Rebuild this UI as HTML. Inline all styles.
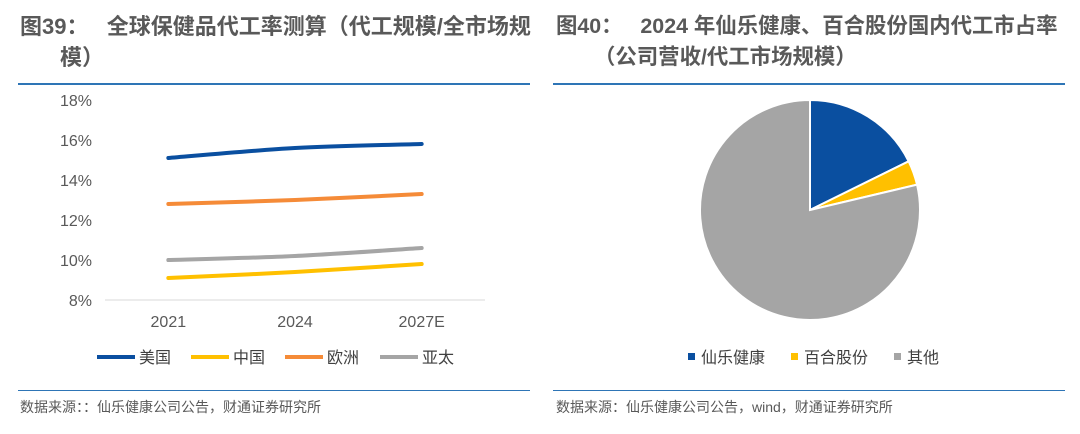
<!DOCTYPE html>
<html><head><meta charset="utf-8"><style>
body{margin:0;width:1080px;height:434px;background:#fff;overflow:hidden;font-family:"Liberation Sans","Noto Sans CJK SC",sans-serif;}
.t{position:absolute;color:#595959;font-weight:600;font-size:22px;line-height:31px;white-space:nowrap;}
.src{position:absolute;top:397px;color:#595959;font-size:14px;}
.hl{position:absolute;height:2px;background:#2e75b6;}
.bl{position:absolute;height:1px;background:#2e75b6;}
</style></head><body>
<div class="t" style="left:20px;top:11px;">图39：&nbsp;&nbsp;&nbsp;全球保健品代工率测算（代工规模/全市场规<br><span style="padding-left:40px">模）</span></div>
<div class="t" style="left:556px;top:11px;font-size:21.4px;">图40：&nbsp;&nbsp;&nbsp;2024 年仙乐健康、百合股份国内代工市占率<br><span style="padding-left:38px">（公司营收/代工市场规模）</span></div>
<div class="hl" style="left:18px;top:83px;width:512px"></div>
<div class="hl" style="left:553px;top:83px;width:512px"></div>
<div class="bl" style="left:18px;top:390px;width:512px"></div>
<div class="bl" style="left:553px;top:390px;width:512px"></div>
<div class="src" style="left:20px">数据来源：：仙乐健康公司公告，财通证券研究所</div>
<div class="src" style="left:556px">数据来源：仙乐健康公司公告，wind，财通证券研究所</div>
<svg id="lc" width="1080" height="434" style="position:absolute;left:0;top:0" font-family="Liberation Sans, Noto Sans CJK SC, sans-serif"></svg>
<script>
const categories=["2021","2024","2027E"];
const usValues=[15.1,15.6,15.8];
const cnValues=[9.1,9.4,9.8];
const euValues=[12.8,13.0,13.3];
const apValues=[10.0,10.2,10.6];
const yTicks=[8,10,12,14,16,18];
const seriesNames=["美国","中国","欧洲","亚太"];
const pieNames=["仙乐健康","百合股份","其他"];
const pieValues=[17.7,3.6,78.7];

const ns="http://www.w3.org/2000/svg";
const svg=document.getElementById('lc');
function mk(t,a,p){const e=document.createElementNS(ns,t);for(const k in a)e.setAttribute(k,a[k]);(p||svg).appendChild(e);return e;}
const x0=105,x1=485,yb=300,yt=100;
const xs=i=>x0+(x1-x0)*(i+0.5)/categories.length;
const ys=v=>yb-(v-8)/(18-8)*(yb-yt);
yTicks.forEach(v=>{const t=mk('text',{x:92,y:ys(v)+6,'text-anchor':'end','font-size':16,fill:'#595959'});t.textContent=v+'%';

});
const ax=mk('line',{x1:x0,x2:x1,y1:yb,y2:yb,stroke:'#d9d9d9','stroke-width':1});


categories.forEach((c,i)=>{const t=mk('text',{x:xs(i),y:327,'text-anchor':'middle','font-size':16,fill:'#595959'});t.textContent=c;

});
const series=[usValues,cnValues,euValues,apValues];
const colors=["#0a4fa0","#ffc000","#f58b38","#a5a5a5"];
const snames=["line-us","line-china","line-europe","line-asia-pacific"];
function smooth(pts){let d=`M${pts[0][0]},${pts[0][1]}`;for(let i=0;i<pts.length-1;i++){const p0=pts[i-1]||pts[i],p1=pts[i],p2=pts[i+1],p3=pts[i+2]||p2;
d+=` C${p1[0]+(p2[0]-p0[0])/6},${p1[1]+(p2[1]-p0[1])/6} ${p2[0]-(p3[0]-p1[0])/6},${p2[1]-(p3[1]-p1[1])/6} ${p2[0]},${p2[1]}`;}return d;}
series.forEach((s,k)=>{const p=mk('path',{d:smooth(s.map((v,i)=>[xs(i),ys(v)])),fill:'none',stroke:colors[k],'stroke-width':4,'stroke-linecap':'round'});

});
const lx=[97,191,285,380];
seriesNames.forEach((n,k)=>{const g=mk('g',{});


mk('line',{x1:lx[k],x2:lx[k]+38,y1:357,y2:357,stroke:colors[k],'stroke-width':4},g);
const t=mk('text',{x:lx[k]+42,y:363,'font-size':16,fill:'#404040'},g);t.textContent=n;});
const cx=810,cy=210,r=110;const pc=["#0a4fa0","#ffc000","#a5a5a5"];
const tot=pieValues.reduce((a,b)=>a+b,0);let a0=0;
pieValues.forEach((v,i)=>{const a1=a0+v/tot*2*Math.PI;
const p=(a)=>[cx+r*Math.sin(a),cy-r*Math.cos(a)];const s=p(a0),e=p(a1);
const pa=mk('path',{d:`M${cx},${cy} L${s[0]},${s[1]} A${r},${r} 0 ${a1-a0>Math.PI?1:0} 1 ${e[0]},${e[1]} Z`,fill:pc[i],stroke:'#fff','stroke-width':2});

a0=a1;});
const px=[688,791,894];
pieNames.forEach((n,i)=>{const g=mk('g',{});


mk('rect',{x:px[i],y:353,width:7,height:7,fill:pc[i]},g);
const t=mk('text',{x:px[i]+13,y:363,'font-size':16,fill:'#404040'},g);t.textContent=n;});
</script>
</body></html>
